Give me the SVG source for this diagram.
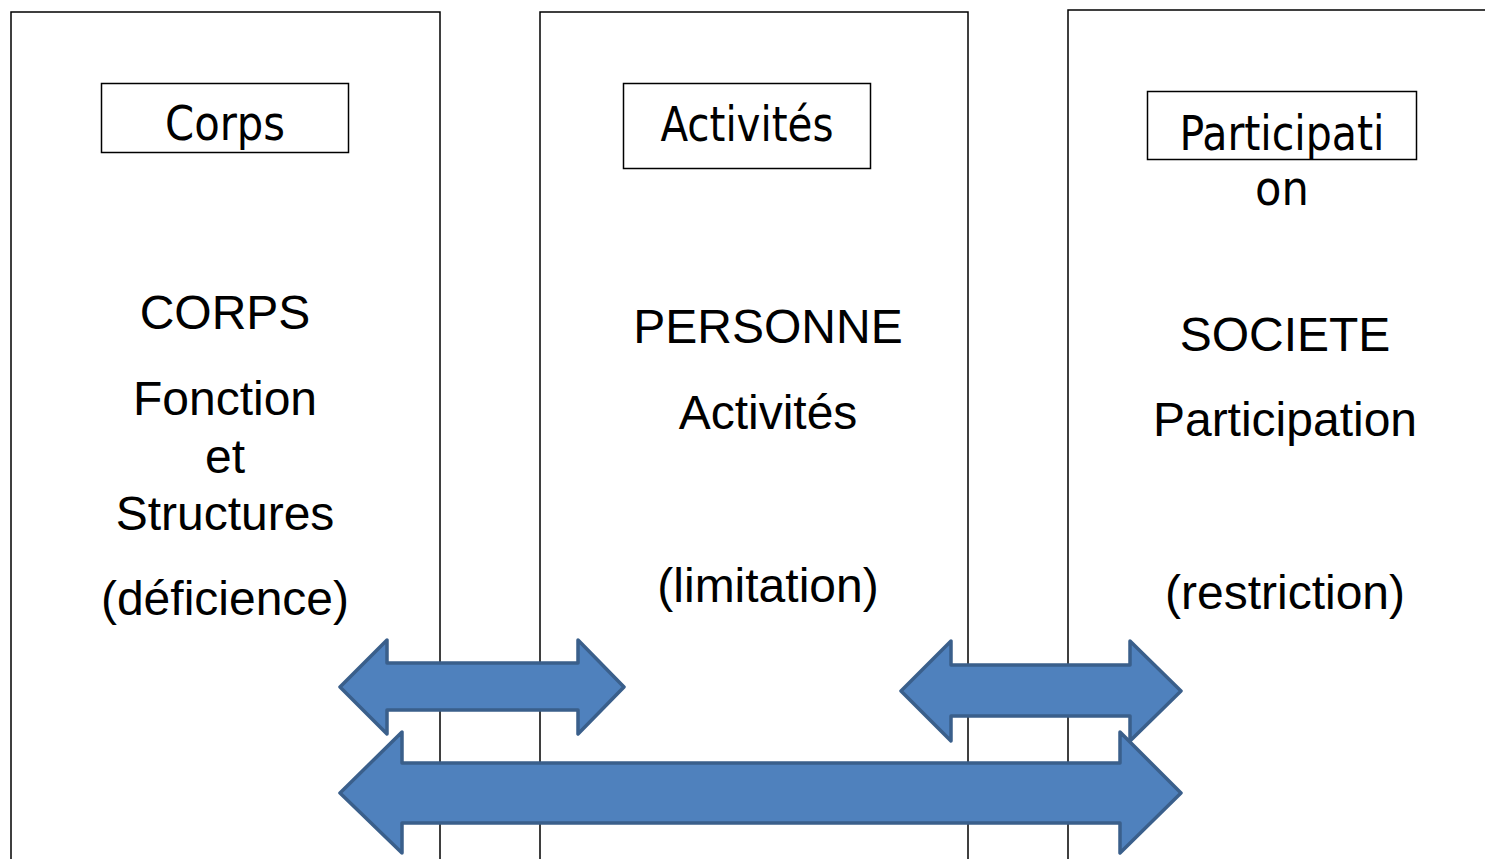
<svg xmlns="http://www.w3.org/2000/svg" width="1485" height="859" viewBox="0 0 1485 859">
<style>
.col{fill:#fff;stroke:#000;stroke-width:1.5}
.tb{fill:#fff;stroke:#000;stroke-width:1.5}
.tt{font-family:"DejaVu Sans Condensed","DejaVu Sans",sans-serif;font-size:48px;fill:#000;text-anchor:middle}
.bt{font-family:"Liberation Sans",Arial,sans-serif;font-size:48px;fill:#000;text-anchor:middle}
.arr{fill:#4F81BD;stroke:#3A5F8B;stroke-width:3.5;stroke-linejoin:round}
</style>
<rect width="1485" height="859" fill="#fff"/>
<g id="col-corps">
<rect class="col" x="11" y="12" width="429" height="860"/>
<rect class="tb" x="101.5" y="83.5" width="247" height="69"/>
<text class="tt" x="225" y="140" textLength="120" lengthAdjust="spacingAndGlyphs">Corps</text>
<text class="bt" x="225" y="329">CORPS</text>
<text class="bt" x="225" y="415">Fonction</text>
<text class="bt" x="225" y="473">et</text>
<text class="bt" x="225" y="530">Structures</text>
<text class="bt" x="225" y="615">(déficience)</text>
</g>
<g id="col-personne">
<rect class="col" x="540" y="12" width="428" height="860"/>
<rect class="tb" x="623.5" y="83.5" width="247" height="85"/>
<text class="tt" x="747" y="141" textLength="173" lengthAdjust="spacingAndGlyphs">Activités</text>
<text class="bt" x="768" y="343">PERSONNE</text>
<text class="bt" x="768" y="429">Activités</text>
<text class="bt" x="768" y="602">(limitation)</text>
</g>
<g id="col-societe">
<rect class="col" x="1068" y="10" width="440" height="862"/>
<rect class="tb" x="1147.5" y="91.5" width="269" height="68"/>
<text class="tt" x="1282" y="150" textLength="205" lengthAdjust="spacingAndGlyphs">Participati</text>
<text class="tt" x="1282" y="205">on</text>
<text class="bt" x="1285" y="351">SOCIETE</text>
<text class="bt" x="1285" y="436">Participation</text>
<text class="bt" x="1285" y="609">(restriction)</text>
</g>
<g id="connectors">
<polygon class="arr" points="340,687 387,640 387,663 578,663 578,640 624,687 578,734 578,710 387,710 387,734"/>
<polygon class="arr" points="901,691 951,641 951,665 1130,665 1130,641 1181,691 1130,741 1130,716 951,716 951,741"/>
<polygon class="arr" points="340,793 402,732 402,763 1120,763 1120,732 1181,793 1120,853 1120,823 402,823 402,853"/>
</g>
</svg>
